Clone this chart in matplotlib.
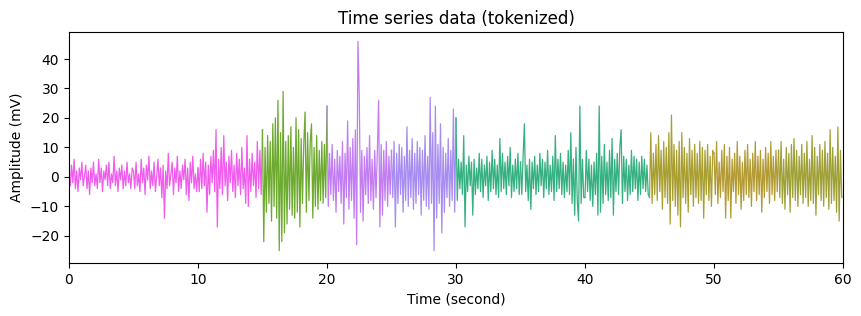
import numpy as np
import matplotlib
matplotlib.use("Agg")
import matplotlib.pyplot as plt

# token length in seconds, one list of samples per token (10 samples / s)
token_sec = 5.0

s0 = [1, -3, 4, -2, 6, -4, 2, -5, 3, -1, 5, -3, 0, 4, -4, 2, -6, 3, -2, 5,
      -3, 1, -4, 6, -2, 3, -5, 2, -1, 4, -3, 5, -4, 1, -2, 7, -3, 2, -5, 3,
      -1, 4, -4, 2, -3, 5, -2, 1, -4, 3]
s1 = [2, -4, 5, -3, 1, -5, 6, -2, 3, -6, 4, -1, 7, -4, 2, -3, 5, -5, 0, 6,
      -3, 3, -7, 4, -14, 2, -4, 8, -3, 1, 5, -6, 3, -2, 7, -5, 2, -4, 4, -1,
      6, -6, 3, -8, 5, -2, 7, -4, 1, -5]
s2 = [3, -5, 6, -4, 8, -3, 5, -12, 4, -6, 7, -2, 9, -5, 16, -17, 6, -4, 10, -6,
      14, -3, 5, -8, 7, -2, 9, -5, 4, -7, 8, -3, 6, -6, 10, -4, 3, -9, 14, -10,
      6, -5, 8, -3, 5, -7, 12, -4, 9, -6]
s3 = [16, -22, 10, -12, 14, -9, 12, -15, 18, -10, 20, -14, 26, -25, 15, -22, 29, -19, 12, -16,
      14, -11, 17, -13, 10, -14, 20, -12, 16, -17, 13, -9, 11, 22, -12, 15, -8, 12, 18, -14,
      10, -10, 14, -11, 9, -8, 12, -9, 11, -7]
s4 = [24, -10, 8, -6, 11, -8, 6, -12, 9, -5, 7, -9, 12, -16, 8, -7, 19, -11, 10, -8,
      13, -14, 16, -23, 46, 28, -12, 9, -15, 7, -6, 10, -9, 14, -8, 6, -11, 9, -7, 8,
      26, -17, 11, -13, 9, -8, 12, -10, 7, -6]
s5 = [9, -7, 12, -17, 8, -9, 11, -6, 10, -12, 7, -8, 17, -10, 9, -7, 13, -11, 8, -9,
      12, -6, 10, -13, 9, -8, 14, -10, 7, -11, 27, -9, 15, -25, 24, -14, 11, -9, 18, -19,
      10, -12, 8, -7, 13, -10, 9, -8, 23, -12]
s6 = [20, -8, 6, -4, 5, -6, 14, -17, 4, -5, 7, -3, 5, -13, 6, -6, 3, -4, 8, -5,
      6, -7, 4, -3, 7, -8, 5, -5, 9, -4, 6, -6, 4, -7, 13, -5, 8, -4, 5, -6,
      7, -3, 10, -7, 4, -5, 6, -4, 8, -6]
s7 = [5, -6, 7, 18, -5, 4, -8, 6, -11, 5, -4, 7, -6, 4, -5, 8, -3, 6, -7, 5,
      -4, 9, -6, 4, -5, 7, -8, 14, -5, 6, -4, 8, -6, 5, -7, 4, -5, 9, -6, 15,
      -9, 6, -13, 10, -8, -15, 24, -9, 6, -7]
s8 = [-7, 9, -5, 6, -8, 4, -10, 5, -6, 8, -13, 24, -12, 7, -9, 11, -6, 5, -8, 9,
      -7, 13, -13, 6, -5, 8, -6, 10, 16, -9, 7, -5, 6, -8, 4, -6, 9, -5, 7, -4,
      6, -8, 5, -6, 7, -4, 6, -5, 4, -6]
s9 = [-7, 15, -9, 8, -6, 11, -8, 14, -5, 9, -11, 12, -7, 10, -9, 15, -16, 21, -8, 11,
      -10, 9, -13, 12, -17, 15, -7, 10, -9, 8, -12, 13, -6, 9, -10, 11, -7, 8, -9, 12,
      -8, 10, -14, 9, -6, 11, -8, 7, -10, 9]
s10 = [8, -6, 12, -9, 5, -7, 9, -5, 11, -14, 7, -8, 10, -14, 6, -5, 8, -9, 12, -6,
       7, -11, 5, -8, 9, -6, 11, -7, 6, -10, 8, -5, 12, -8, 7, -6, 9, -12, 6, -7,
       10, -5, 8, -9, 12, -6, 7, -8, 9, -5]
s11 = [9, -7, 12, -9, 6, -11, 10, -6, 8, -12, 11, -7, 13, -8, 9, -10, 7, -6, 11, -9,
       8, -7, 12, -10, 6, -8, 14, -9, 10, -13, 7, -6, 11, -8, 9, -10, 12, -7, 8, -11,
       16, -9, 10, -8, 7, -12, 17, -15, 9, -7]

tokens = [s0, s1, s2, s3, s4, s5, s6, s7, s8, s9, s10, s11]
token_colors = ["#f05cee", "#f05cee", "#f05cee", "#6daa2f", "#c27df2", "#a78cf1",
                "#35b080", "#35b080", "#35b080", "#a89f30", "#b39a32", "#9fa036"]

fig = plt.figure(figsize=(8.62, 3.16), dpi=100)
ax = fig.add_axes([0.080, 0.168, 0.898, 0.731])

for i, seg in enumerate(tokens):
    vals = list(seg)
    n = len(vals)
    t = i * token_sec + np.arange(n) * token_sec / n
    # connect to the first sample of the next token
    if i + 1 < len(tokens):
        vals = vals + [tokens[i + 1][0]]
        t = np.append(t, (i + 1) * token_sec)
    ax.plot(t, vals, color=token_colors[i], linewidth=0.9)

ax.set_xlim(0, 60)
ax.set_ylim(-29.2, 49.2)
ax.set_title("Time series data (tokenized)")
ax.set_xlabel("Time (second)")
ax.set_ylabel("Amplitude (mV)")

fig.savefig("out.png", dpi=100)
plt.close(fig)
